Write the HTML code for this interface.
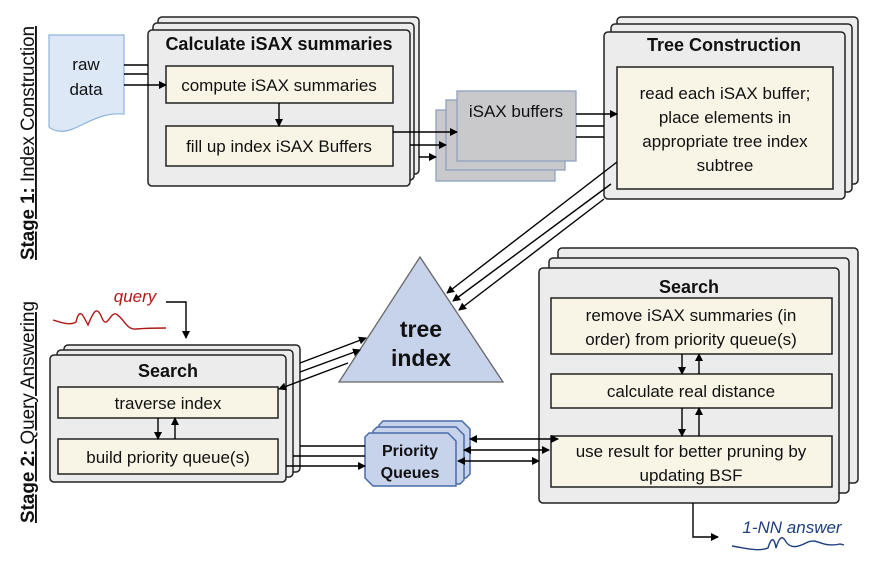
<!DOCTYPE html>
<html><head><meta charset="utf-8"><style>
body{margin:0;background:#fff}
svg{display:block;font-family:"Liberation Sans",sans-serif}
</style></head><body>
<svg width="872" height="564" viewBox="0 0 872 564" xmlns="http://www.w3.org/2000/svg">
<defs>
<marker id="a" markerWidth="8" markerHeight="8" refX="7" refY="4" orient="auto" markerUnits="userSpaceOnUse"><path d="M0,0 L8,4 L0,8 z" fill="#000"/></marker>
<marker id="s" markerWidth="8" markerHeight="8" refX="1" refY="4" orient="auto" markerUnits="userSpaceOnUse"><path d="M8,0 L0,4 L8,8 z" fill="#000"/></marker>
</defs>
<g stroke="#222" stroke-width="1.5" fill="#ececec">
<rect x="158" y="17" width="261" height="157" rx="4"/>
<rect x="153" y="23" width="261" height="157" rx="4"/>
<rect x="148" y="30" width="262" height="156" rx="4"/>
<rect x="617" y="17" width="241" height="167" rx="4"/>
<rect x="611" y="24" width="241" height="168" rx="4"/>
<rect x="604" y="32" width="241" height="167" rx="4"/>
<rect x="64" y="345" width="236" height="127" rx="4"/>
<rect x="57" y="350" width="236" height="127" rx="4"/>
<rect x="50" y="355" width="236" height="127" rx="4"/>
<rect x="558" y="248" width="300" height="235" rx="4"/>
<rect x="549" y="258" width="300" height="235" rx="4"/>
<rect x="539" y="268" width="300" height="235" rx="4"/>
</g>
<g stroke="#222" stroke-width="1.5" fill="#f8f4e6">
<rect x="166" y="66" width="227" height="37"/>
<rect x="166" y="126" width="227" height="40"/>
<rect x="617" y="67" width="216" height="122"/>
<rect x="58" y="387" width="220" height="31"/>
<rect x="58" y="439" width="220" height="35"/>
<rect x="551" y="298" width="281" height="56"/>
<rect x="551" y="374" width="281" height="34"/>
<rect x="551" y="436" width="281" height="51"/>
</g>
<path d="M49,35 H124 V114 C100,112 85,125 70,130 C60,133 52,130 49,127 Z" fill="#dce8f6" stroke="#8fb4dc" stroke-width="1.2"/>
<g fill="#c9c9cc" stroke="#8fa0bf" stroke-width="1.3">
<rect x="436" y="110" width="119" height="71"/>
<rect x="446" y="100" width="119" height="70"/>
<rect x="457" y="91" width="119" height="70"/>
</g>
<path d="M420,257 L503,382 L339,382 Z" fill="#c7d2eb" stroke="#666" stroke-width="1.3"/>
<g fill="#c7d2eb" stroke="#4a6aa8" stroke-width="1.5">
<path d="M383,421 H462 L470,429 V474 L466,478 H387 L379,470 V425 Z"/>
<path d="M377,427 H456 L464,435 V480 L460,484 H381 L373,476 V431 Z"/>
<path d="M369,433 H448 L456,441 V486 L452,486 H373 L365,478 V437 Z"/>
</g>
<g stroke="#000" stroke-width="1.4" fill="none">
<line x1="124" y1="65" x2="148" y2="65"/>
<line x1="124" y1="74" x2="148" y2="74"/>
<line x1="124" y1="85" x2="166" y2="85" marker-end="url(#a)"/>
<line x1="279" y1="103" x2="279" y2="126" marker-end="url(#a)"/>
<line x1="393" y1="132" x2="457" y2="132" marker-end="url(#a)"/>
<line x1="410" y1="145" x2="446" y2="145" marker-end="url(#a)"/>
<line x1="419" y1="157" x2="436" y2="157" marker-end="url(#a)"/>
<line x1="576" y1="114" x2="617" y2="114" marker-end="url(#a)"/>
<line x1="576" y1="126" x2="604" y2="126"/>
<line x1="576" y1="137" x2="604" y2="137"/>
<line x1="617" y1="162" x2="447" y2="293" marker-end="url(#a)"/>
<line x1="611" y1="184" x2="453" y2="301" marker-end="url(#a)"/>
<line x1="604" y1="199" x2="459" y2="310" marker-end="url(#a)"/>
<line x1="300" y1="363" x2="366" y2="338" marker-end="url(#a)"/>
<line x1="300" y1="372" x2="360" y2="350" marker-end="url(#a)"/>
<line x1="348" y1="363" x2="279" y2="389" marker-end="url(#a)"/>
<polyline points="166,302 186,302 186,338" marker-end="url(#a)"/>
<line x1="158" y1="418" x2="158" y2="439" marker-end="url(#a)"/>
<line x1="175" y1="439" x2="175" y2="418" marker-end="url(#a)"/>
<line x1="300" y1="446" x2="365" y2="446"/>
<line x1="293" y1="456" x2="365" y2="456"/>
<line x1="286" y1="466" x2="365" y2="466" marker-end="url(#a)"/>
<line x1="470" y1="439" x2="558" y2="439" marker-start="url(#s)" marker-end="url(#a)"/>
<line x1="464" y1="450" x2="549" y2="450" marker-start="url(#s)" marker-end="url(#a)"/>
<line x1="458" y1="461" x2="539" y2="461" marker-start="url(#s)" marker-end="url(#a)"/>
<line x1="682" y1="354" x2="682" y2="374" marker-end="url(#a)"/>
<line x1="699" y1="374" x2="699" y2="354" marker-end="url(#a)"/>
<line x1="682" y1="408" x2="682" y2="436" marker-end="url(#a)"/>
<line x1="699" y1="436" x2="699" y2="408" marker-end="url(#a)"/>
<polyline points="693,503 693,537 718,537" marker-end="url(#a)"/>
</g>
<path d="M53,320 C60,322 70,326 76,322 C80,305 84,318 88,325 C94,310 97,306 102,318 C107,330 110,312 116,314 C124,318 126,330 136,329 C148,328 158,328 166,328" fill="none" stroke="#b01818" stroke-width="1.4"/>
<path d="M732,546 C745,548 758,552 768,548 C771,538 774,536 776,548 C779,538 782,534 786,542 C792,550 800,546 808,542 C818,538 822,548 840,544 L844,545" fill="none" stroke="#1d3f80" stroke-width="1.4"/>
<g fill="#111" font-size="17" text-anchor="middle">
<text x="86" y="70">raw</text><text x="86" y="95">data</text>
<text x="279" y="50" font-weight="bold" font-size="18">Calculate iSAX summaries</text>
<text x="279" y="91">compute iSAX summaries</text>
<text x="279" y="152">fill up index iSAX Buffers</text>
<text x="516" y="117">iSAX buffers</text>
<text x="724" y="51" font-weight="bold" font-size="18">Tree Construction</text>
<text x="725" y="99">read each iSAX buffer;</text>
<text x="725" y="123">place elements in</text>
<text x="725" y="147">appropriate tree index</text>
<text x="725" y="171">subtree</text>
<text x="421" y="337" font-weight="bold" font-size="23">tree</text>
<text x="421" y="366" font-weight="bold" font-size="23">index</text>
<text x="168" y="377" font-weight="bold" font-size="18">Search</text>
<text x="168" y="409">traverse index</text>
<text x="168" y="463">build priority queue(s)</text>
<text x="410" y="456" font-weight="bold" font-size="16">Priority</text>
<text x="410" y="478" font-weight="bold" font-size="16">Queues</text>
<text x="689" y="293" font-weight="bold" font-size="18">Search</text>
<text x="691" y="321">remove iSAX summaries (in</text>
<text x="691" y="345">order) from priority queue(s)</text>
<text x="691" y="397">calculate real distance</text>
<text x="691" y="457">use result for better pruning by</text>
<text x="691" y="481">updating BSF</text>
<text x="135" y="302" fill="#b01818" font-style="italic">query</text>
<text x="792" y="533" fill="#1d3f80" font-style="italic">1-NN answer</text>
</g>
<g font-size="19" fill="#111">
<text transform="translate(34,260) rotate(-90)" textLength="234" lengthAdjust="spacingAndGlyphs"><tspan font-weight="bold" text-decoration="underline">Stage 1:</tspan><tspan text-decoration="underline"> Index Construction</tspan></text>
<text transform="translate(34,523) rotate(-90)" textLength="222" lengthAdjust="spacingAndGlyphs"><tspan font-weight="bold" text-decoration="underline">Stage 2:</tspan><tspan text-decoration="underline"> Query Answering</tspan></text>
</g>
</svg>
</body></html>
